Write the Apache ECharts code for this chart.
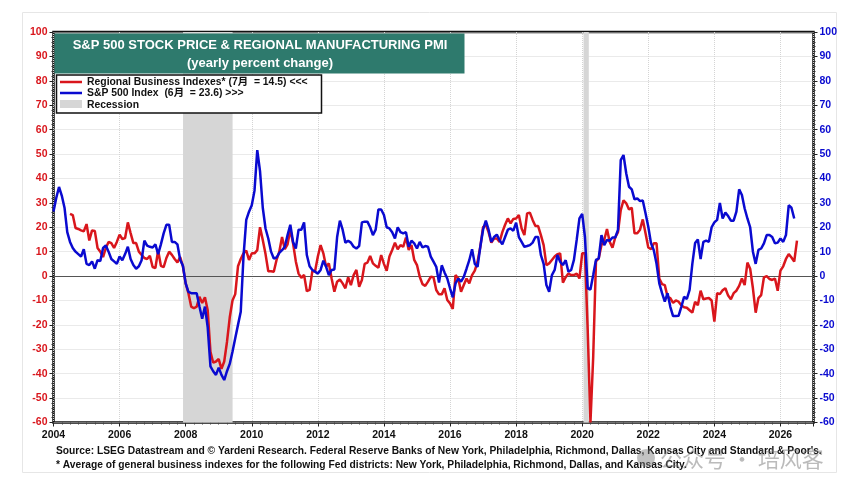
<!DOCTYPE html>
<html>
<head>
<meta charset="utf-8">
<style>html,body{margin:0;padding:0;background:#fff}#chart{width:854px;height:492px}</style>
<script src="https://cdn.jsdelivr.net/npm/echarts@6/dist/echarts.min.js"></script>
</head>
<body>
<div id="chart"></div>
<script>
// Monthly yearly percent changes
const sp500Start = 2004;           // January 2004
const sp500Yoy = [
  26.5,32,36.5,33,28,18,14,11.5,10,9,8,11,
  5,4.5,6,3,6.5,6.2,11.5,12.5,10,7,6,5,
  8,6.5,9,12,7,4.5,3,4,6.5,14.5,12.5,12,
  11.7,13,9,13,17.5,21,21,14,14,13,6.7,4.2,
  -3,-6.5,-7,-7,-7,-12.5,-17.5,-12.5,-21,-37,-39,-40.5,
  -37.5,-40.5,-42.6,-39,-36,-31,-25.5,-20,-14.6,8,23,26.4,
  29,35,51.6,43,28,19.5,15.4,10,7.2,7.6,9.5,10.6,
  12,16.8,21,14,11.3,19,19,22,8.6,4,2.5,1.8,
  1,2.5,6.3,3.8,0.4,2.5,2.7,16,22.7,19,13.7,14.5,
  13.7,12,11.3,12.3,22,22.3,22.3,20,16.8,19,27.3,27.3,
  25,20,19.5,18,15.4,20,18,17.5,18,12,14.5,13.4,
  11.3,14,11.7,12.3,12,8,5.9,3.8,-2.7,4.4,1.5,-1,
  -5,-8.7,-3,-1,-2.3,-0.3,3,6.5,11,5,3.8,12,
  19,22.7,19,14,16,17,14.7,13,16,19,19.5,18.6,
  21.9,16,14,12,12.3,12.7,13.7,16,16,8.6,5,-3.7,
  -6.4,0.4,2.5,8.6,5.9,4.5,6.5,1.8,2.5,6.6,14.8,23.6,
  25.5,16,-5,-5.5,0.4,6.6,7.2,16.8,12.7,14.8,14.5,15.8,
  15.8,18.9,47.5,49.6,42,36.6,35.5,31.4,31.8,30.7,31,25.7,
  20.2,13.4,10.6,5,-3,-7,-10.5,-7,-12.6,-16.4,-16.4,-16.3,
  -12.6,-8.5,-9.4,-5.7,5,13.5,15,7,14,14.5,14,20,
  22,23,30,23.6,26,24.6,22.7,22.7,26.4,35.5,33.2,27.7,
  23.6,20,10,5,10.7,11.3,13.4,16.8,16.8,16,13.4,13.7,
  15.4,14,16.8,29,28,23.6
];

const regionalStart = 2004 + 6 / 12; // July 2004
const regionalYoy = [
  25.5,25,19.7,19.3,18.7,18.3,
  21.3,14.6,18.7,18.5,11.5,10,7.8,11.5,14,13.5,11.5,14,
  17,15.2,15.6,22,17.6,13.5,13.5,10,8.7,7.4,7,8.3,
  3.7,3.3,10.5,4.2,3.7,7.4,10,8.7,7,5.6,7.8,4,
  -3,-7,-12.5,-13.2,-12.5,-8.5,-11,-8.7,-14,-31,-35.5,-35,
  -34,-38,-35,-27,-17,-10,-7.4,4,7,9.3,10.4,6.6,
  9.3,9.3,10.6,20,14.8,9,2,2,1.8,6.6,10,16,
  11,13,19,13.4,6,1,-0.7,0.5,-6.2,-5.7,2,2,
  8,12.7,9.3,3.8,5.2,-1,-6.4,-2.3,-1.4,-3,-5,-0.5,
  -3.7,0.4,2.5,-4.4,-1.6,5,5.5,8.2,5.2,4.2,3.4,8.6,
  5,2.2,8,10.7,13.7,11,12.7,12,15.8,10.7,12.7,6.6,
  4.5,-0.3,-3.3,-4,-2.3,-0.3,-0.5,-5.7,-7.5,-7.5,-5,-9.8,
  -11.2,-13.5,0.4,-1,-6.4,-3.7,-1,-3,0.4,2.2,5.9,12,
  20,21,18,13.7,15.4,15.4,14,18,21,23.6,21.6,23.4,
  23.6,25,19.5,16.8,25.7,26,23,20.5,20.5,16.8,12.7,4.5,
  5.2,6.6,8,9,9.3,-2.7,-0.5,1,0.4,0.4,1,-1,
  9.3,9.3,-22,-60,-33,6,7.2,12.7,14.8,19.3,14,11.6,
  15.8,18,27,31,29.8,27.3,28,17.5,17.5,19,23.2,17.5,
  11.7,11,13.4,13.4,-1,-3.3,-3.7,-8.5,-9,-11,-10,-10.5,
  -12,-12.8,-13,-14,-15,-10.5,-12,-6,-9.5,-9.2,-9,-10,
  -18.7,-7,-7.4,-5.8,-5,-8,-9.5,-7,-6,-4,-1,-3.7,
  5.5,3,-5,-15,-9,-7.8,-0.5,0,-1.2,-1.6,-1,-6,
  2.2,4,7,9,7.6,5.9,14.5
];

// Recession spans, in decimal years
const recessions = [[2007.92, 2009.42], [2020.04, 2020.2]];

const titleLines = ['S&P 500 STOCK PRICE & REGIONAL MANUFACTURING PMI', '(yearly percent change)'];
const legendLabels = ['Regional Business Indexes* (7月  = 14.5) <<<', 'S&P 500 Index  (6月  = 23.6) >>>', 'Recession'];
const footnotes = [
  "Source: LSEG Datastream and © Yardeni Research. Federal Reserve Banks of New York, Philadelphia, Richmond, Dallas, Kansas City and Standard & Poor's.",
  '* Average of general business indexes for the following Fed districts: New York, Philadelphia, Richmond, Dallas, and Kansas City.'
];
const watermark = '公众号 · 培风客';

const RED = '#d9161c', BLUE = '#0a0ad0', FONT = '"Liberation Sans", Arial, sans-serif';

const monthly = (start, values) => values.map((v, i) => [start + i / 12, v]);

const yAxisBase = (position, color) => ({
  type: 'value', position, min: -60, max: 100, interval: 10,
  axisLine: { show: false, onZero: false },
  axisTick: { show: true, length: 4, lineStyle: { color: '#222' } },
  minorTick: { show: true, splitNumber: 5, length: 2, lineStyle: { color: '#333' } },
  axisLabel: { color, fontFamily: FONT, fontWeight: 'bold', fontSize: 10.5, margin: 6 }
});

const chart = echarts.init(document.getElementById('chart'), null, { renderer: 'canvas' });
chart.setOption({
  animation: false,
  backgroundColor: '#fff',
  grid: { left: 53.5, right: 40.5, top: 32, bottom: 69.5, show: true, borderColor: '#111', borderWidth: 2.5, backgroundColor: 'transparent' },
  xAxis: {
    type: 'value', min: 2004, max: 2027, interval: 2, position: 'bottom',
    axisLine: { show: false, onZero: false },
    axisTick: { show: true, length: 4, lineStyle: { color: '#222' } },
    minorTick: { show: true, splitNumber: 8, length: 2, lineStyle: { color: '#444' } },
    axisLabel: {
      color: '#111', fontFamily: FONT, fontWeight: 'bold', fontSize: 10.5, margin: 7,
      formatter: v => (v % 2 === 0 ? String(v) : '')
    },
    splitLine: { show: true, lineStyle: { color: '#d4d4d4', type: 'dotted', width: 1 } }
  },
  yAxis: [
    Object.assign(yAxisBase('left', RED), {
      splitLine: { show: true, lineStyle: { color: '#d4d4d4', type: 'dotted', width: 1 } }
    }),
    Object.assign(yAxisBase('right', BLUE), { splitLine: { show: false } })
  ],
  series: [
    {
      name: 'Regional Business Indexes', type: 'line', yAxisIndex: 0, z: 3,
      data: monthly(regionalStart, regionalYoy), showSymbol: false,
      lineStyle: { color: RED, width: 2.5 },
      markArea: {
        silent: true, z: 1,
        itemStyle: { color: '#d6d6d6' },
        data: recessions.map(r => [{ xAxis: r[0] }, { xAxis: r[1] }])
      },
      markLine: {
        silent: true, symbol: 'none', z: 2, label: { show: false },
        lineStyle: { color: '#555', width: 1, type: 'solid' },
        data: [{ yAxis: 0 }]
      }
    },
    {
      name: 'S&P 500 Index', type: 'line', yAxisIndex: 1, z: 4,
      data: monthly(sp500Start, sp500Yoy), showSymbol: false,
      lineStyle: { color: BLUE, width: 2.5 }
    }
  ],
  graphic: [
    // outer frame
    { type: 'rect', z: -1, silent: true, shape: { x: 22.5, y: 12.5, width: 814, height: 460 }, style: { fill: 'none', stroke: '#e6e6e6', lineWidth: 1 } },
    // title block
    { type: 'rect', z: 10, shape: { x: 54.5, y: 33.5, width: 410, height: 40 }, style: { fill: '#2e7a6d' } },
    { type: 'text', z: 11, style: { x: 260, y: 45, text: titleLines[0], fill: '#fff', font: 'bold 13px ' + FONT, textAlign: 'center', textVerticalAlign: 'middle' } },
    { type: 'text', z: 11, style: { x: 260, y: 63, text: titleLines[1], fill: '#fff', font: 'bold 13px ' + FONT, textAlign: 'center', textVerticalAlign: 'middle' } },
    // legend block
    { type: 'rect', z: 10, shape: { x: 56.5, y: 75, width: 265, height: 38 }, style: { fill: '#fff', stroke: '#111', lineWidth: 1.5 } },
    { type: 'line', z: 11, shape: { x1: 60, y1: 82, x2: 82, y2: 82 }, style: { stroke: RED, lineWidth: 2.5 } },
    { type: 'line', z: 11, shape: { x1: 60, y1: 93, x2: 82, y2: 93 }, style: { stroke: BLUE, lineWidth: 2.5 } },
    { type: 'rect', z: 11, shape: { x: 60, y: 100, width: 22, height: 8 }, style: { fill: '#d6d6d6' } },
    { type: 'text', z: 11, style: { x: 87, y: 82, text: legendLabels[0], fill: '#111', font: 'bold 10.4px ' + FONT + ', "Noto Sans CJK SC"', textVerticalAlign: 'middle' } },
    { type: 'text', z: 11, style: { x: 87, y: 93, text: legendLabels[1], fill: '#111', font: 'bold 10.4px ' + FONT + ', "Noto Sans CJK SC"', textVerticalAlign: 'middle' } },
    { type: 'text', z: 11, style: { x: 87, y: 105, text: legendLabels[2], fill: '#111', font: 'bold 10.4px ' + FONT, textVerticalAlign: 'middle' } },
    // footnotes
    { type: 'text', z: 11, style: { x: 56, y: 451, text: footnotes[0], fill: '#111', font: 'bold 10.25px ' + FONT, textVerticalAlign: 'middle' } },
    { type: 'text', z: 11, style: { x: 56, y: 465, text: footnotes[1], fill: '#111', font: 'bold 10.25px ' + FONT, textVerticalAlign: 'middle' } },
    // account mark over the footer
    { type: 'circle', z: 12, shape: { cx: 646, cy: 458, r: 9 }, style: { fill: 'rgba(120,120,120,0.45)' } },
    { type: 'text', z: 12, style: { x: 660, y: 459, text: watermark, fill: 'rgba(120,120,120,0.5)', font: '22px "Noto Sans CJK SC"', textVerticalAlign: 'middle' } }
  ]
});
</script>
</body>
</html>
